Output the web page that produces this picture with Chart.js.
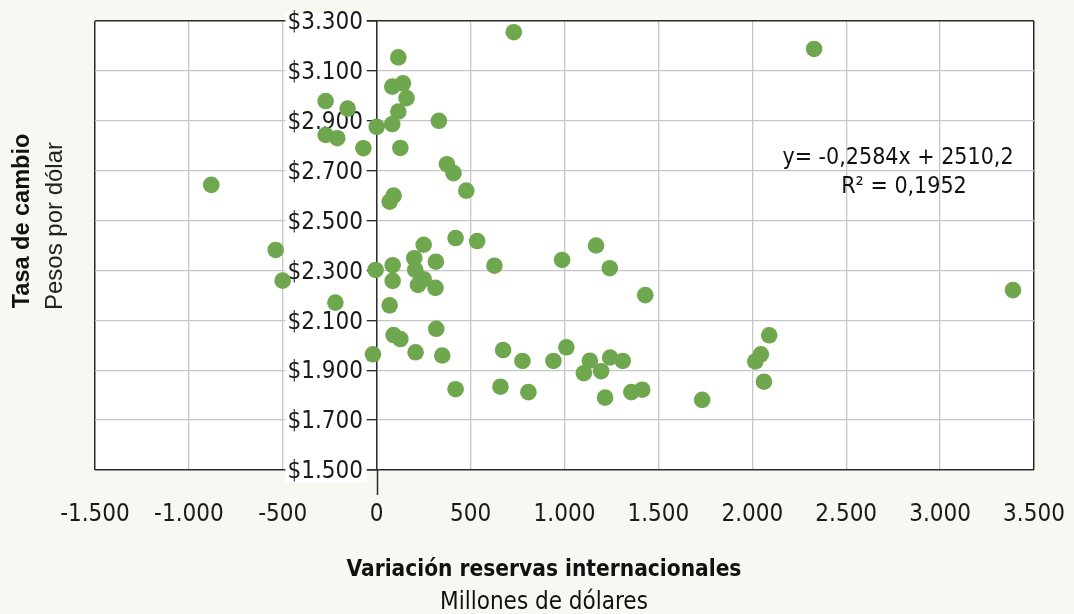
<!DOCTYPE html>
<html>
<head>
<meta charset="utf-8">
<script src="https://cdn.jsdelivr.net/npm/chart.js@4.4.1/dist/chart.umd.min.js"></script>
<style>
    html, body { margin: 0; padding: 0; background: #f8f8f3; }
</style>
</head>
<body>
<canvas id="scatterChart" width="1074" height="614"></canvas>
<script>
// Variación reservas internacionales (millones de dólares) vs tasa de cambio (pesos por dólar)
const reservas = [
    -881, 730, 2329, 115, 83, 140, 159, 115, 83, 0,
    331, -272, -155, -272, -210, -71, 126, 374, 409, 477,
    90, 69, 420, 535, 250, 1168, 200, 315, 987, 85,
    -6, 627, 1241, 205, 250, 85, 220, 313, 1430, 69,
    -538, -501, -220, 90, 126, 317, -20, 207, 349, 420,
    673, 776, 941, 1010, 1135, 1103, 1195, 1243, 1310, 659,
    808, 1216, 1356, 1414, 1733, 3388, 2090, 2046, 2016, 2062
];
const tasaCambio = [
    2643, 3255, 3188, 3154, 3037, 3050, 2991, 2937, 2887, 2876,
    2900, 2979, 2949, 2843, 2830, 2790, 2791, 2726, 2690, 2620,
    2600, 2576, 2430, 2418, 2403, 2400, 2349, 2335, 2342, 2321,
    2302, 2319, 2309, 2302, 2265, 2258, 2242, 2230, 2201, 2160,
    2382, 2259, 2171, 2041, 2025, 2066, 1964, 1972, 1959, 1824,
    1981, 1937, 1937, 1992, 1938, 1888, 1896, 1951, 1937, 1834,
    1812, 1790, 1812, 1822, 1781, 2221, 2040, 1964, 1935, 1854
];

const xTickValues = [-1500, -1000, -500, 0, 500, 1000, 1500, 2000, 2500, 3000, 3500];
const xTickLabels = ['-1.500', '-1.000', '-500', '0', '500', '1.000', '1.500', '2.000', '2.500', '3.000', '3.500'];
const yTickValues = [1500, 1700, 1900, 2100, 2300, 2500, 2700, 2900, 3100, 3300];
const yTickLabels = ['$1.500', '$1.700', '$1.900', '$2.100', '$2.300', '$2.500', '$2.700', '$2.900', '$3.100', '$3.300'];

const xTitle = 'Variación reservas internacionales';
const xSubtitle = 'Millones de dólares';
const yTitle = 'Tasa de cambio';
const ySubtitle = 'Pesos por dólar';
const equationLines = ['y= -0,2584x + 2510,2', 'R\u00B2 = 0,1952'];

const narrow = "'Liberation Sans Narrow', 'DejaVu Sans Condensed', sans-serif";
const gridGray = '#c6c6c9';
const borderDark = '#2b2b2b';

const points = reservas.map((x, i) => ({ x: x, y: tasaCambio[i] }));

const backgroundPlugin = {
    id: 'background',
    beforeDraw(chart) {
        const { ctx, chartArea: a } = chart;
        ctx.save();
        ctx.fillStyle = '#f8f8f3';
        ctx.fillRect(0, 0, chart.width, chart.height);
        ctx.fillStyle = '#ffffff';
        ctx.fillRect(a.left, a.top, a.right - a.left, a.bottom - a.top);
        ctx.restore();
    }
};

const annotationsPlugin = {
    id: 'annotations',
    afterDraw(chart) {
        const { ctx, chartArea: a } = chart;
        const zeroX = Math.round(chart.scales.x.getPixelForValue(0)) + 0.5;
        ctx.save();

        // tail of the vertical axis below the plot
        ctx.strokeStyle = borderDark;
        ctx.lineWidth = 1.5;
        ctx.beginPath();
        ctx.moveTo(zeroX, a.bottom);
        ctx.lineTo(zeroX, a.bottom + 25);
        ctx.stroke();

        ctx.fillStyle = '#111';
        ctx.textAlign = 'center';
        ctx.textBaseline = 'middle';

        // x axis titles
        ctx.font = "bold 22.5px " + narrow;
        ctx.fillText(xTitle, 544, 570);
        ctx.font = "24px " + narrow;
        ctx.fillText(xSubtitle, 544, 603);

        // y axis titles
        ctx.save();
        ctx.translate(23, 221);
        ctx.rotate(-Math.PI / 2);
        ctx.font = "bold 23.5px 'Liberation Sans', 'DejaVu Sans', sans-serif";
        ctx.fillText(yTitle, 0, 0);
        ctx.restore();
        ctx.save();
        ctx.translate(55, 226);
        ctx.rotate(-Math.PI / 2);
        ctx.fillStyle = '#222';
        ctx.font = "24px 'Liberation Sans', 'DejaVu Sans', sans-serif";
        ctx.fillText(ySubtitle, 0, 0);
        ctx.restore();

        // regression equation
        ctx.font = "23px " + narrow;
        ctx.fillText(equationLines[0], 898, 158);
        ctx.fillText(equationLines[1], 904, 187);

        ctx.restore();
    }
};

new Chart(document.getElementById('scatterChart'), {
    type: 'scatter',
    data: {
        datasets: [{
            label: 'Tasa de cambio',
            data: points,
            backgroundColor: '#6fa74f',
            borderWidth: 0,
            pointRadius: 8.3,
            pointHoverRadius: 8.3
        }]
    },
    options: {
        responsive: false,
        animation: false,
        events: [],
        layout: {
            padding: { left: 95, right: 40, top: 21, bottom: 0 }
        },
        plugins: {
            legend: { display: false },
            tooltip: { enabled: false }
        },
        scales: {
            x: {
                type: 'linear',
                position: 'bottom',
                min: -1500,
                max: 3500,
                afterBuildTicks(scale) {
                    scale.ticks = xTickValues.map(v => ({ value: v }));
                },
                afterFit(scale) {
                    scale.height = 144;
                    scale.paddingLeft = 0;
                    scale.paddingRight = 0;
                },
                grid: {
                    color: ctx => (ctx.index === 0 || ctx.index === xTickValues.length - 1) ? borderDark : gridGray,
                    lineWidth: ctx => (ctx.index === 0 || ctx.index === xTickValues.length - 1) ? 1.5 : 1.3,
                    drawTicks: false
                },
                border: { display: false },
                ticks: {
                    padding: 30,
                    color: '#1a1a1a',
                    font: { family: narrow, size: 24 },
                    maxRotation: 0,
                    autoSkip: false,
                    callback: (value) => xTickLabels[xTickValues.indexOf(value)]
                }
            },
            y: {
                type: 'linear',
                position: { x: 0 },
                min: 1500,
                max: 3300,
                afterBuildTicks(scale) {
                    scale.ticks = yTickValues.map(v => ({ value: v }));
                },
                grid: {
                    color: ctx => (ctx.index === 0 || ctx.index === yTickValues.length - 1) ? borderDark : gridGray,
                    lineWidth: ctx => (ctx.index === 0 || ctx.index === yTickValues.length - 1) ? 1.5 : 1.3,
                    tickColor: borderDark,
                    tickLength: 10,
                    drawTicks: true
                },
                border: { display: true, color: borderDark, width: 1.5 },
                ticks: {
                    color: '#1a1a1a',
                    font: { family: narrow, size: 24 },
                    labelOffset: 2,
                    showLabelBackdrop: true,
                    backdropColor: '#ffffff',
                    // labels sit right-aligned on the axis line; trailing spaces leave room for the tick mark
                    backdropPadding: { top: -5, bottom: -4, left: 2, right: -10 },
                    autoSkip: false,
                    callback: (value) => yTickLabels[yTickValues.indexOf(value)] + '  '
                }
            }
        }
    },
    plugins: [backgroundPlugin, annotationsPlugin]
});
</script>
</body>
</html>
